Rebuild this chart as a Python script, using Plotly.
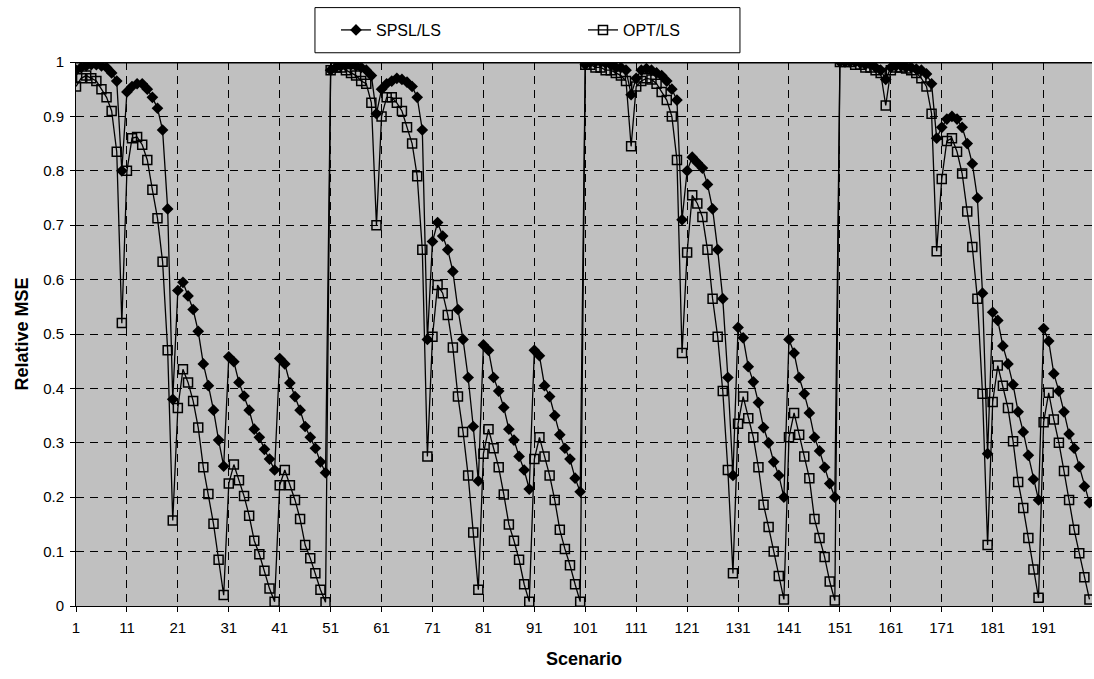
import plotly.graph_objects as go

scenarios = list(range(1, 201))

spsl_ls = [
    # 1-50
    0.985, 0.99, 0.993, 0.995, 0.995, 0.993, 0.99, 0.98, 0.965, 0.80,
    0.945, 0.955, 0.96, 0.96, 0.95, 0.935, 0.915, 0.875, 0.73, 0.38,
    0.58, 0.595, 0.57, 0.545, 0.505, 0.445, 0.405, 0.36, 0.305, 0.257,
    0.458, 0.449, 0.411, 0.386, 0.36, 0.325, 0.31, 0.288, 0.27, 0.25,
    0.455, 0.445, 0.41, 0.385, 0.36, 0.33, 0.31, 0.29, 0.265, 0.245,
    # 51-100
    0.985, 0.99, 0.993, 0.995, 0.995, 0.993, 0.99, 0.985, 0.975, 0.905,
    0.95, 0.96, 0.965, 0.97, 0.968, 0.963, 0.955, 0.935, 0.875, 0.49,
    0.67, 0.705, 0.68, 0.655, 0.615, 0.545, 0.49, 0.42, 0.33, 0.23,
    0.48, 0.47, 0.42, 0.395, 0.365, 0.325, 0.305, 0.275, 0.25, 0.215,
    0.47, 0.46, 0.405, 0.385, 0.35, 0.315, 0.29, 0.27, 0.235, 0.21,
    # 101-150
    0.995, 1.0, 1.0, 1.0, 0.998, 0.995, 0.99, 0.99, 0.985, 0.94,
    0.97, 0.985, 0.988, 0.985, 0.98, 0.975, 0.965, 0.95, 0.93, 0.71,
    0.80, 0.825, 0.815, 0.805, 0.775, 0.73, 0.655, 0.565, 0.42, 0.24,
    0.512, 0.493, 0.44, 0.412, 0.374, 0.328, 0.30, 0.265, 0.24, 0.20,
    0.49, 0.465, 0.42, 0.39, 0.355, 0.31, 0.285, 0.255, 0.225, 0.20,
    # 151-200
    1.0, 1.0, 1.0, 1.0, 0.998, 0.995, 0.995, 0.99, 0.985, 0.968,
    0.99, 0.993, 0.993, 0.99, 0.99, 0.987, 0.985, 0.978, 0.96, 0.86,
    0.88, 0.895, 0.90, 0.895, 0.88, 0.85, 0.813, 0.75, 0.575, 0.28,
    0.54, 0.525, 0.478, 0.445, 0.407, 0.357, 0.32, 0.277, 0.233, 0.195,
    0.51, 0.487, 0.427, 0.395, 0.357, 0.316, 0.29, 0.256, 0.22, 0.19,
]

opt_ls = [
    # 1-50
    0.955, 0.97, 0.975, 0.97, 0.965, 0.95, 0.935, 0.91, 0.835, 0.52,
    0.80, 0.86, 0.862, 0.848, 0.82, 0.765, 0.713, 0.633, 0.47, 0.157,
    0.364, 0.435, 0.411, 0.377, 0.328, 0.255, 0.206, 0.151, 0.085, 0.02,
    0.225, 0.26, 0.231, 0.202, 0.166, 0.12, 0.095, 0.065, 0.032, 0.008,
    0.222, 0.25, 0.222, 0.195, 0.16, 0.112, 0.088, 0.06, 0.03, 0.007,
    # 51-100
    0.985, 0.99, 0.99, 0.985, 0.98, 0.975, 0.965, 0.96, 0.925, 0.70,
    0.90, 0.935, 0.935, 0.925, 0.91, 0.88, 0.85, 0.79, 0.655, 0.275,
    0.495, 0.59, 0.575, 0.535, 0.475, 0.385, 0.32, 0.24, 0.135, 0.03,
    0.28, 0.325, 0.29, 0.255, 0.205, 0.15, 0.12, 0.085, 0.04, 0.008,
    0.27, 0.31, 0.275, 0.24, 0.195, 0.14, 0.105, 0.075, 0.04, 0.008,
    # 101-150
    0.995, 0.995, 0.99, 0.99, 0.985, 0.985, 0.98, 0.975, 0.965, 0.845,
    0.955, 0.965, 0.97, 0.968, 0.96, 0.945, 0.93, 0.90, 0.82, 0.465,
    0.65, 0.755, 0.74, 0.715, 0.655, 0.565, 0.495, 0.395, 0.25, 0.06,
    0.335, 0.385, 0.345, 0.31, 0.255, 0.186, 0.145, 0.10, 0.055, 0.012,
    0.31, 0.355, 0.315, 0.275, 0.235, 0.16, 0.125, 0.09, 0.045, 0.01,
    # 151-200
    1.0, 1.0, 1.0, 0.995, 0.995, 0.99, 0.99, 0.985, 0.98, 0.92,
    0.985, 0.99, 0.99, 0.988, 0.985, 0.98, 0.97, 0.955, 0.905, 0.652,
    0.785, 0.855, 0.86, 0.835, 0.795, 0.725, 0.66, 0.565, 0.39, 0.112,
    0.375, 0.442, 0.405, 0.364, 0.303, 0.228, 0.18, 0.125, 0.067, 0.015,
    0.338, 0.392, 0.343, 0.30, 0.248, 0.195, 0.14, 0.097, 0.053, 0.012,
]

x_tick_vals = list(range(1, 201, 10))
x_tick_text = [str(v) for v in x_tick_vals]
y_tick_vals = [i / 10 for i in range(11)]
y_tick_text = ["0", "0.1", "0.2", "0.3", "0.4", "0.5", "0.6", "0.7", "0.8", "0.9", "1"]

FONT = "Liberation Sans, Arial, sans-serif"

fig = go.Figure()
fig.add_trace(go.Scatter(
    x=scenarios, y=spsl_ls, name="SPSL/LS", mode="lines+markers",
    line=dict(color="black", width=1.3),
    marker=dict(symbol="diamond", size=9, color="black"),
))
fig.add_trace(go.Scatter(
    x=scenarios, y=opt_ls, name="OPT/LS", mode="lines+markers",
    line=dict(color="black", width=1.3),
    marker=dict(symbol="square-open", size=9, color="black", line=dict(width=1.5, color="black")),
))

fig.update_layout(
    width=1094, height=679,
    margin=dict(l=76, r=2, t=62, b=73),
    paper_bgcolor="white",
    plot_bgcolor="#C0C0C0",
    font=dict(family=FONT, size=15, color="black"),
    showlegend=True,
    legend=dict(
        orientation="h", x=0.2559, y=0.9558, xanchor="left", yanchor="middle",
        yref="container",
        bgcolor="rgba(0,0,0,0)", borderwidth=0,
        font=dict(family=FONT, size=16, color="black"),
        entrywidth=202, itemwidth=30,
    ),
    xaxis=dict(
        range=[1, 200.5], tickmode="array", tickvals=x_tick_vals, ticktext=x_tick_text,
        showgrid=True, gridcolor="black", griddash="8px,6px", gridwidth=1,
        ticks="outside", ticklen=5, tickcolor="black", ticklabelstandoff=3,
        showline=True, linecolor="black", linewidth=1, zeroline=False,
        tickfont=dict(family=FONT, size=15),
        title=dict(text="<b>Scenario</b>", font=dict(family=FONT, size=18), standoff=17),
    ),
    yaxis=dict(
        range=[0, 1], tickmode="array", tickvals=y_tick_vals, ticktext=y_tick_text,
        showgrid=True, gridcolor="black", griddash="8px,6px", gridwidth=1,
        ticks="outside", ticklen=5, tickcolor="black", ticklabelstandoff=3,
        showline=True, linecolor="black", linewidth=1, zeroline=False,
        tickfont=dict(family=FONT, size=15),
        title=dict(text="<b>Relative MSE</b>", font=dict(family=FONT, size=18), standoff=9),
    ),
    shapes=[
        dict(type="line", xref="paper", yref="y", x0=0, x1=1, y0=1, y1=1,
             line=dict(color="black", width=3)),
        dict(type="rect", xref="paper", yref="paper", x0=0.2352, x1=0.6535, y0=1.017, y1=1.1,
             line=dict(color="black", width=1), fillcolor="rgba(0,0,0,0)"),
    ],
)

fig.write_html("out.html")
